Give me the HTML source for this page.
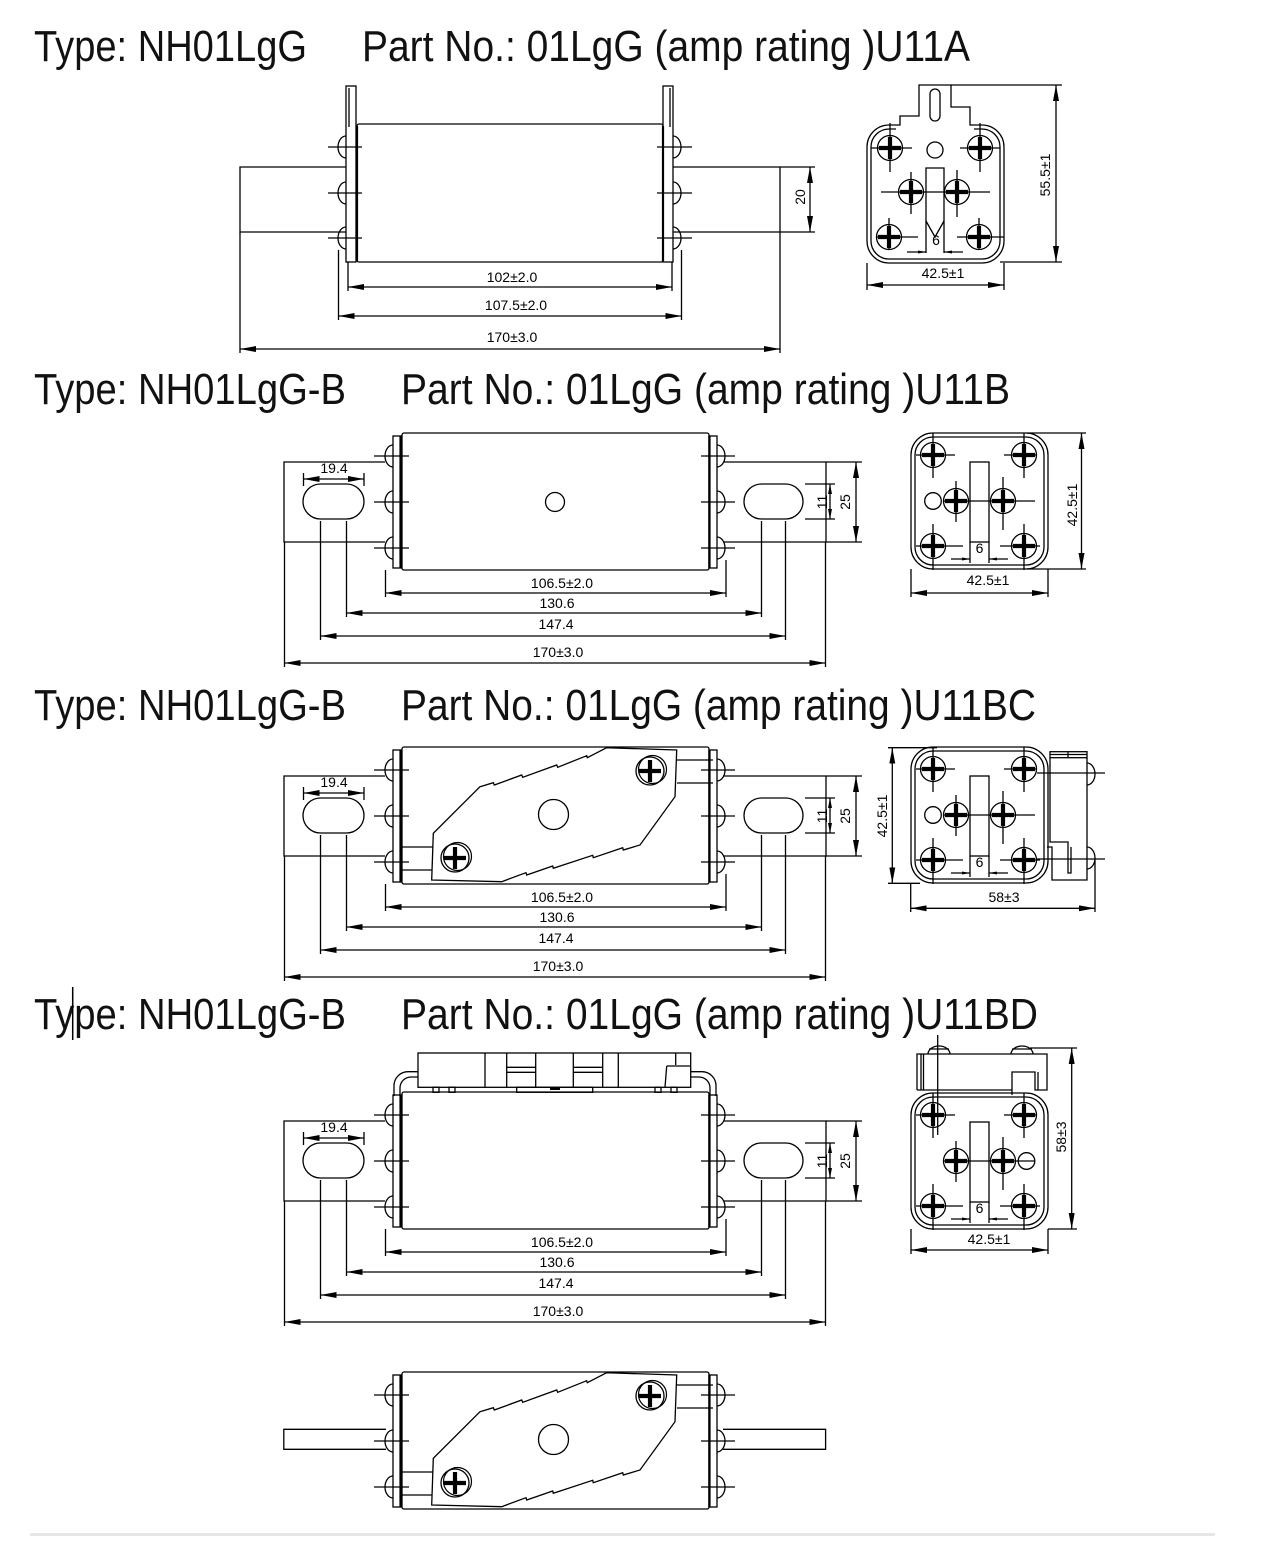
<!DOCTYPE html>
<html><head><meta charset="utf-8"><style>
html,body{margin:0;padding:0;background:#fff;}
svg{display:block}
</style></head><body>
<svg xmlns="http://www.w3.org/2000/svg" width="1268" height="1552" viewBox="0 0 1268 1552">
<defs>
<marker id="ar" viewBox="0 0 16 6" refX="16" refY="3" markerWidth="16" markerHeight="6" markerUnits="userSpaceOnUse" orient="auto-start-reverse"><path d="M0,0L16,3L0,6z" fill="#000"/></marker>
<marker id="am" viewBox="0 0 10 4" refX="10" refY="2" markerWidth="10" markerHeight="4" markerUnits="userSpaceOnUse" orient="auto-start-reverse"><path d="M0,0L10,2L0,4z" fill="#000"/></marker>
<marker id="as" viewBox="0 0 8 3" refX="8" refY="1.5" markerWidth="8" markerHeight="3" markerUnits="userSpaceOnUse" orient="auto"><path d="M0,0L8,1.5L0,3z" fill="#000"/></marker>

<g id="sc"><circle r="12.5" fill="none" stroke="#000" stroke-width="1.3"/><path d="M-11,0H11M0,-11V11" stroke="#000" stroke-width="4.2" fill="none"/></g>
<g id="sp"><circle r="14" fill="#fff" stroke="#000" stroke-width="1.3"/><circle cx="2.5" cy="-1.5" r="14" fill="none" stroke="#000" stroke-width="1.2"/><path d="M-11,0H11M0,-11V11" stroke="#000" stroke-width="4.2" fill="none"/></g>

<!-- front common (drawing 2 coords) -->
<g id="fr" fill="none" stroke="#000" stroke-width="1.3">
 <rect x="402" y="433" width="307" height="137" rx="2"/>
 <rect x="393" y="436" width="8" height="132"/>
 <rect x="709" y="436" width="8" height="132"/>
 <path d="M400.5,436V568M709.5,436V568" stroke-width="2.2"/>
 <path d="M393,445A8,11 0 0 0 393,467M393,491A8,11 0 0 0 393,513M393,537A8,11 0 0 0 393,559"/>
 <path d="M717,445A8,11 0 0 1 717,467M717,491A8,11 0 0 1 717,513M717,537A8,11 0 0 1 717,559"/>
 <path d="M374,456H409M374,502H409M374,548H409M701,456H735M701,502H735M701,548H735"/>
</g>

<!-- blades, slots & dims (drawing 2 coords) -->
<g id="bd">
 <g fill="none" stroke="#000" stroke-width="1.3">
  <path d="M385,462H284V542H385M724,462H826V542H724"/>
  <rect x="303" y="484" width="61" height="35" rx="17.5"/>
  <rect x="744" y="484" width="59" height="35" rx="17.5"/>
  <path d="M303.5,473V486M364,473V486"/>
  <path d="M805,484H835M805,519H835"/>
  <path d="M826,462H862M826,542H862"/>
  <path d="M385.5,570V597M726,560V597"/>
  <path d="M320.5,521V640M346.5,521V617M761.5,521V617M785.5,521V640"/>
  <path d="M284.5,542V667M825.5,542V667"/>
  <path d="M303.5,479H364" marker-start="url(#ar)" marker-end="url(#ar)"/>
  <path d="M830,484V519" marker-start="url(#am)" marker-end="url(#am)"/>
  <path d="M856,462V542" marker-start="url(#ar)" marker-end="url(#ar)"/>
  <path d="M385.5,593H726" marker-start="url(#ar)" marker-end="url(#ar)"/>
  <path d="M346.5,613H761.5" marker-start="url(#ar)" marker-end="url(#ar)"/>
  <path d="M320.5,636H785.5" marker-start="url(#ar)" marker-end="url(#ar)"/>
  <path d="M284.5,663H825.5" marker-start="url(#ar)" marker-end="url(#ar)"/>
 </g>
 <g font-family="Liberation Sans, sans-serif" font-size="14" text-anchor="middle" fill="#000">
  <text x="334" y="473">19.4</text>
  <text transform="translate(827,502) rotate(-90)">11</text>
  <text transform="translate(850,502) rotate(-90)">25</text>
  <text x="562" y="588">106.5±2.0</text>
  <text x="557" y="608">130.6</text>
  <text x="556" y="629">147.4</text>
  <text x="558" y="657">170±3.0</text>
 </g>
</g>

<!-- side view common (drawing 2 coords) -->
<g id="sv">
 <g fill="none" stroke="#000" stroke-width="1.3">
  <rect x="911" y="433" width="137" height="136" rx="22"/>
  <rect x="915" y="437" width="129" height="128" rx="18"/>
  <rect x="970" y="462" width="19" height="80"/>
  <path d="M970,542V563M989,542V563"/>
  <path d="M916,455H955M933,433V478M1004,455H1037M1024,433V478M916,546H963M933,524V570M1000,546H1040M1024,524V570M943,501H1035M956,481V522M1003,477V530"/>
  <path d="M951,559H970" marker-end="url(#as)"/>
  <path d="M1008,559H989" marker-end="url(#as)"/>
 </g>
 <use href="#sc" x="933" y="455"/><use href="#sc" x="1024" y="455"/>
 <use href="#sc" x="933" y="546"/><use href="#sc" x="1024" y="546"/>
 <use href="#sc" x="956" y="501"/><use href="#sc" x="1003" y="501"/>
 <text x="979.5" y="553" font-family="Liberation Sans, sans-serif" font-size="14" text-anchor="middle" fill="#000">6</text>
</g>

<!-- plate (drawing 3 absolute coords) -->
<g id="pl">
 <g fill="none" stroke="#000" stroke-width="1.3">
  <path d="M400,847H433M400,870H433M677,760H713M677,783H713"/>
  <polygon fill="#fff" points="480,786.7 493.3,782.7 494.3,785 521.7,775 522.7,777.3 556.7,765 557.7,767.3 586.7,755.7 587.3,757.7 606.7,747.7 676.7,750 675,796.7 640,845 623.3,850 622.7,847.7 593.3,857.7 592.7,855.3 553.3,868.3 552.7,866 526.7,875 526,872.7 501.7,881.7 431.7,880 433.3,833.3"/>
  <circle cx="553.5" cy="814.5" r="15"/>
 </g>
 <use href="#sp" x="650" y="771"/>
 <use href="#sp" x="455" y="858"/>
</g>
</defs>

<!-- Headings -->
<g font-family="Liberation Sans, sans-serif" font-size="44" fill="#111">
 <text x="34" y="61" textLength="273" lengthAdjust="spacingAndGlyphs">Type: NH01LgG</text>
 <text x="362" y="61" textLength="608" lengthAdjust="spacingAndGlyphs">Part No.: 01LgG (amp rating )U11A</text>
 <text x="34" y="404" textLength="312" lengthAdjust="spacingAndGlyphs">Type: NH01LgG-B</text>
 <text x="401" y="404" textLength="609" lengthAdjust="spacingAndGlyphs">Part No.: 01LgG (amp rating )U11B</text>
 <text x="34" y="720" textLength="312" lengthAdjust="spacingAndGlyphs">Type: NH01LgG-B</text>
 <text x="401" y="720" textLength="635" lengthAdjust="spacingAndGlyphs">Part No.: 01LgG (amp rating )U11BC</text>
 <text x="34" y="1029" textLength="312" lengthAdjust="spacingAndGlyphs">Type: NH01LgG-B</text>
 <text x="401" y="1029" textLength="637" lengthAdjust="spacingAndGlyphs">Part No.: 01LgG (amp rating )U11BD</text>
</g>
<path d="M72.7,987V1040" stroke="#000" stroke-width="1.5"/>

<!-- ===== Drawing 1 front ===== -->
<g fill="none" stroke="#000" stroke-width="1.3">
 <path d="M346,167H240V232H346M673,167H780V232H673"/>
 <rect x="346" y="86" width="10" height="176"/>
 <rect x="663" y="86" width="10" height="176"/>
 <path d="M349,88V127M670,88V127"/>
 <rect x="357" y="124" width="306" height="138" rx="2"/>
 <path d="M357,126V261M663,126V261" stroke-width="2.2"/>
 <path d="M346,136A8,11 0 0 0 346,158M346,182A8,11 0 0 0 346,204M346,227A8,11 0 0 0 346,249"/>
 <path d="M673,136A8,11 0 0 1 673,158M673,182A8,11 0 0 1 673,204M673,227A8,11 0 0 1 673,249"/>
 <path d="M328,147H362M328,193H362M328,238H362M657,147H692M657,193H692M657,238H692"/>
 <!-- dims -->
 <path d="M780,167H815M780,232H815"/>
 <path d="M810,167V232" marker-start="url(#ar)" marker-end="url(#ar)"/>
 <path d="M348,262V291M672,262V291"/>
 <path d="M348,287H672" marker-start="url(#ar)" marker-end="url(#ar)"/>
 <path d="M338.5,250V320M681.5,250V320"/>
 <path d="M338.5,316H681.5" marker-start="url(#ar)" marker-end="url(#ar)"/>
 <path d="M240,232V353M780,232V353"/>
 <path d="M240,349H780" marker-start="url(#ar)" marker-end="url(#ar)"/>
</g>
<g font-family="Liberation Sans, sans-serif" font-size="14" text-anchor="middle" fill="#000">
 <text transform="translate(805,197) rotate(-90)">20</text>
 <text x="512" y="282">102±2.0</text>
 <text x="516" y="310">107.5±2.0</text>
 <text x="512" y="342">170±3.0</text>
</g>

<!-- ===== Drawing 1 side ===== -->
<g fill="none" stroke="#000" stroke-width="1.3">
 <path d="M900,125V116H919V85H951V107H970V125H982A22,22 0 0 1 1004,147V241A22,22 0 0 1 982,263H889A22,22 0 0 1 867,241V147A22,22 0 0 1 889,125Z"/>
 <path d="M896,129H889A18,18 0 0 0 871,147V241A18,18 0 0 0 889,259H982A18,18 0 0 0 1000,241V147A18,18 0 0 0 982,129H974"/>
 <rect x="930" y="89" width="10" height="32" rx="5"/>
 <circle cx="935" cy="150" r="8"/>
 <path d="M926,253V168H944V253"/>
 <path d="M926,221L935,237L944,221"/>
 <path d="M871,148H912M890,123V172M960,148H1000M980,123V172M881,192H990M911,172V214M957,170V217M877,237H918M889,218V250M957,237H1004M979,218V250"/>
 <path d="M907,252H926" marker-end="url(#as)"/>
 <path d="M963,252H944" marker-end="url(#as)"/>
 <path d="M867,263V290M1004,263V290"/>
 <path d="M867,285H1004" marker-start="url(#ar)" marker-end="url(#ar)"/>
 <path d="M951,85H1062M1000,262H1062"/>
 <path d="M1056,85V262" marker-start="url(#ar)" marker-end="url(#ar)"/>
</g>
<use href="#sc" x="890" y="148"/><use href="#sc" x="980" y="148"/>
<use href="#sc" x="889" y="237"/><use href="#sc" x="979" y="237"/>
<use href="#sc" x="911" y="192"/><use href="#sc" x="957" y="192"/>
<g font-family="Liberation Sans, sans-serif" font-size="14" text-anchor="middle" fill="#000">
 <text x="936" y="245">6</text>
 <text x="943" y="278">42.5±1</text>
 <text transform="translate(1050,175) rotate(-90)">55.5±1</text>
</g>

<!-- ===== Drawing 2 ===== -->
<use href="#bd"/>
<use href="#fr"/>
<circle cx="555" cy="502" r="9.5" fill="none" stroke="#000" stroke-width="1.3"/>
<use href="#sv"/>
<circle cx="933" cy="501" r="8.3" fill="none" stroke="#000" stroke-width="1.3"/>
<g fill="none" stroke="#000" stroke-width="1.3">
 <path d="M911,569V597M1048,569V597"/>
 <path d="M911,593H1048" marker-start="url(#ar)" marker-end="url(#ar)"/>
 <path d="M1027,433H1086M1027,569H1086"/>
 <path d="M1081.5,433V569" marker-start="url(#ar)" marker-end="url(#ar)"/>
</g>
<g font-family="Liberation Sans, sans-serif" font-size="14" text-anchor="middle" fill="#000">
 <text x="988" y="585">42.5±1</text>
 <text transform="translate(1077,505) rotate(-90)">42.5±1</text>
</g>

<!-- ===== Drawing 3 ===== -->
<use href="#bd" y="314"/>
<use href="#fr" y="314"/>
<use href="#pl"/>
<use href="#sv" y="314"/>
<circle cx="933" cy="815" r="8.3" fill="none" stroke="#000" stroke-width="1.3"/>
<g fill="none" stroke="#000" stroke-width="1.3">
 <rect x="1050" y="751.7" width="37" height="6"/>
 <path d="M1050,754.5H1087M1068,751.7V757.7"/>
 <path d="M1087,757.7V880H1052V847H1047"/>
 <path d="M1050,757.7V842H1068V873H1071V847"/>
 <path d="M1087,763A8,11 0 0 1 1087,785M1087,847A8,11 0 0 1 1087,869"/>
 <path d="M1037,773H1105M1037,859H1105"/>
 <path d="M888,747.7H937M888,883.3H920"/>
 <path d="M892.3,747.7V883.3" marker-start="url(#ar)" marker-end="url(#ar)"/>
 <path d="M910.7,883V912M1095,860V912"/>
 <path d="M910.7,908.3H1095" marker-start="url(#ar)" marker-end="url(#ar)"/>
</g>
<g font-family="Liberation Sans, sans-serif" font-size="14" text-anchor="middle" fill="#000">
 <text transform="translate(887,816) rotate(-90)">42.5±1</text>
 <text x="1004" y="902">58±3</text>
</g>

<!-- ===== Drawing 4 ===== -->
<use href="#bd" y="659"/>
<use href="#fr" y="659"/>
<g fill="none" stroke="#000" stroke-width="1.3">
 <rect x="418" y="1053" width="272.7" height="34.3"/>
 <path d="M485,1053V1087.3M506.7,1053V1087.3M535.7,1053V1087.3M573.3,1053V1087.3M602.7,1053V1087.3M618.3,1053V1087.3"/>
 <path d="M506.7,1067.3H535.7M506.7,1072.3H535.7M573.3,1067.3H602.7M573.3,1072.3H602.7"/>
 <path d="M675.7,1053V1065M666.7,1066H690.7M666.7,1066L665,1087.3"/>
 <rect x="433" y="1087.3" width="6" height="5"/><rect x="449" y="1087.3" width="6" height="5"/>
 <rect x="655" y="1087.3" width="6" height="5"/><rect x="671" y="1087.3" width="6" height="5"/>
 <rect x="516.7" y="1087.3" width="76" height="5"/>
 <path d="M550,1089H560" stroke-width="2"/>
 <path d="M418,1071.7H408A14,14 0 0 0 394,1085.7V1096"/>
 <path d="M418,1077H411A11,11 0 0 0 400,1088V1096"/>
 <path d="M690.7,1071.7H702A14,14 0 0 1 716,1085.7V1096"/>
 <path d="M690.7,1077H699A11,11 0 0 1 710,1088V1096"/>
</g>
<use href="#sv" y="660"/>
<circle cx="1026.5" cy="1161" r="8.3" fill="none" stroke="#000" stroke-width="1.3"/>
<g fill="none" stroke="#000" stroke-width="1.3">
 <path d="M917,1090V1054H1047V1090H1035V1072H1012V1095"/>
 <path d="M917,1090H1012M921,1054V1090M923.5,1054V1090M1038,1072V1090"/>
 <path d="M928,1054A11,8 0 0 1 950,1054M929,1049H949"/>
 <path d="M1011,1054A11,8 0 0 1 1033,1054M1012,1049H1032"/>
 <path d="M937.7,1035V1135"/>
 <path d="M911,1229V1254M1048,1229V1254"/>
 <path d="M911,1250H1048" marker-start="url(#ar)" marker-end="url(#ar)"/>
 <path d="M1030,1048H1077M1048,1229H1077"/>
 <path d="M1071.7,1048V1229" marker-start="url(#ar)" marker-end="url(#ar)"/>
</g>
<g font-family="Liberation Sans, sans-serif" font-size="14" text-anchor="middle" fill="#000">
 <text x="989" y="1244">42.5±1</text>
 <text transform="translate(1066,1137) rotate(-90)">58±3</text>
</g>

<!-- ===== Drawing 5 (bottom) ===== -->
<g fill="none" stroke="#000" stroke-width="1.3">
 <path d="M386,1429.3H283.8V1449.3H386M723,1429.3H825.6V1449.3H723"/>
</g>
<use href="#fr" y="939"/>
<use href="#pl" y="625"/>

<rect x="30" y="1533" width="1185" height="3" fill="#e6e6e6"/>
</svg>
</body></html>
